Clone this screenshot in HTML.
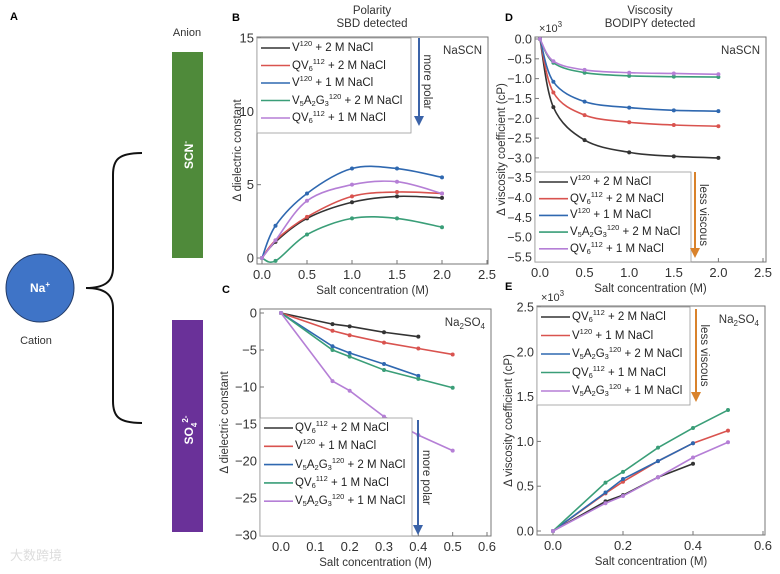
<!DOCTYPE html>
<html><head><meta charset="utf-8">
<style>
html,body{margin:0;padding:0;background:#fff;}
svg{display:block;font-family:"Liberation Sans",Arial,sans-serif;}
</style></head>
<body>
<svg id="fig" width="780" height="574" viewBox="0 0 780 574" xmlns="http://www.w3.org/2000/svg">
  <g>
    <text x="10" y="20" font-size="11" font-weight="bold">A</text>
    <text x="187" y="36" font-size="11" text-anchor="middle" fill="#333">Anion</text>
    <rect x="172" y="52" width="31" height="206" fill="#4f8a3a"/>
    <text transform="translate(193,155) rotate(-90)" font-size="12" font-weight="bold" fill="#fff" text-anchor="middle">SCN<tspan dy="-5" font-size="8">-</tspan></text>
    <rect x="172" y="320" width="31" height="212" fill="#6a3199"/>
    <text transform="translate(193,430) rotate(-90)" font-size="12" font-weight="bold" fill="#fff" text-anchor="middle">SO<tspan dy="4" font-size="8">4</tspan><tspan dy="-9" font-size="8">2-</tspan></text>
    <ellipse cx="40" cy="288" rx="34" ry="34" fill="#3f74c7" stroke="#223a66" stroke-width="1"/>
    <text x="40" y="292" font-size="12" font-weight="bold" fill="#fff" text-anchor="middle">Na<tspan dy="-5" font-size="8">+</tspan></text>
    <text x="36" y="344" font-size="11" fill="#333" text-anchor="middle">Cation</text>
    <path d="M142,153 C118,153 113,160 113,175 L113,268 C113,282 104,288 86,288 C104,288 113,294 113,308 L113,401 C113,416 118,423 142,423" fill="none" stroke="#111" stroke-width="2"/>
    <text x="10" y="560" font-size="13" fill="#ddd">大数跨境</text>
  </g>
  <g id="charts"></g>
</svg>
<script>
// ---- Panel B data (Polarity, NaSCN)
const bX = [0, 0.15, 0.5, 1.0, 1.5, 2.0];
const bBlack = [0, 1.1, 2.7, 3.8, 4.2, 4.1];
const bRed = [0, 1.2, 2.8, 4.2, 4.5, 4.4];
const bBlue = [0, 2.2, 4.4, 6.1, 6.1, 5.5];
const bGreen = [0, -0.2, 1.6, 2.7, 2.7, 2.1];
const bPurple = [0, 1.2, 3.9, 5.0, 5.2, 4.4];
const bLabels = ["V<sup>120</sup> + 2 M NaCl","QV<sub>6</sub><sup>112</sup> + 2 M NaCl","V<sup>120</sup> + 1 M NaCl","V<sub>5</sub>A<sub>2</sub>G<sub>3</sub><sup>120</sup> + 2 M NaCl","QV<sub>6</sub><sup>112</sup> + 1 M NaCl"];
const bXTicks = [0, 0.5, 1.0, 1.5, 2.0, 2.5];
const bYTicks = [0, 5, 10, 15];
// ---- Panel D data (Viscosity, NaSCN, x10^3)
const dX = [0, 0.15, 0.5, 1.0, 1.5, 2.0];
const dBlack = [0, -1.72, -2.55, -2.86, -2.96, -3.0];
const dRed = [0, -1.35, -1.92, -2.1, -2.17, -2.2];
const dBlue = [0, -1.08, -1.58, -1.73, -1.8, -1.82];
const dGreen = [0, -0.6, -0.85, -0.93, -0.95, -0.96];
const dPurple = [0, -0.56, -0.78, -0.85, -0.87, -0.89];
const dLabels = bLabels;
const dXTicks = [0, 0.5, 1.0, 1.5, 2.0, 2.5];
const dYTicks = [0, -0.5, -1.0, -1.5, -2.0, -2.5, -3.0, -3.5, -4.0, -4.5, -5.0, -5.5];
// ---- Panel C data (Polarity, Na2SO4)
const cX = [0, 0.15, 0.2, 0.3, 0.4, 0.5];
const cBlack = [0, -1.5, -1.8, -2.6, -3.2];
const cRed = [0, -2.4, -3.0, -4.0, -4.8, -5.6];
const cBlue = [0, -4.5, -5.4, -6.9, -8.5];
const cGreen = [0, -5.0, -5.9, -7.7, -8.9, -10.1];
const cPurple = [0, -9.2, -10.5, -14.0, -16.5, -18.6];
const cLabels = ["QV<sub>6</sub><sup>112</sup> + 2 M NaCl","V<sup>120</sup> + 1 M NaCl","V<sub>5</sub>A<sub>2</sub>G<sub>3</sub><sup>120</sup> + 2 M NaCl","QV<sub>6</sub><sup>112</sup> + 1 M NaCl","V<sub>5</sub>A<sub>2</sub>G<sub>3</sub><sup>120</sup> + 1 M NaCl"];
const cXTicks = [0, 0.1, 0.2, 0.3, 0.4, 0.5, 0.6];
const cYTicks = [0, -5, -10, -15, -20, -25, -30];
// ---- Panel E data (Viscosity, Na2SO4, x10^3)
const eX = [0, 0.15, 0.2, 0.3, 0.4, 0.5];
const eBlack = [0, 0.33, 0.4, 0.6, 0.75];
const eRed = [0, 0.42, 0.55, 0.78, 0.98, 1.12];
const eBlue = [0, 0.43, 0.58, 0.78, 0.98];
const eGreen = [0, 0.54, 0.66, 0.93, 1.15, 1.35];
const ePurple = [0, 0.31, 0.39, 0.6, 0.82, 0.99];
const eLabels = cLabels;
const eXTicks = [0, 0.2, 0.4, 0.6];
const eYTicks = [0, 0.5, 1.0, 1.5, 2.0, 2.5];

const COLORS = ["#333333", "#d9534f", "#2f68b0", "#3a9e78", "#b57fd6"];
const NS = "http://www.w3.org/2000/svg";
const root = document.getElementById("charts");

function mk(tag, attrs, parent) {
  const el = document.createElementNS(NS, tag);
  for (const k in attrs) el.setAttribute(k, attrs[k]);
  (parent || root).appendChild(el);
  return el;
}
function fmt(v, dec) { return v.toFixed(dec).replace("-", "\u2212"); }
function smoothPath(pts) {
  let d = "M" + pts[0][0] + "," + pts[0][1];
  for (let i = 0; i < pts.length - 1; i++) {
    const p0 = pts[Math.max(0, i - 1)], p1 = pts[i], p2 = pts[i + 1], p3 = pts[Math.min(pts.length - 1, i + 2)];
    const c1 = [p1[0] + (p2[0] - p0[0]) / 6, p1[1] + (p2[1] - p0[1]) / 6];
    const c2 = [p2[0] - (p3[0] - p1[0]) / 6, p2[1] - (p3[1] - p1[1]) / 6];
    d += " C" + c1.join(",") + " " + c2.join(",") + " " + p2.join(",");
  }
  return d;
}

function panel(cfg) {
  const g = mk("g", {});
  
  
  const sx = v => cfg.px0 + (v - cfg.x0) / (cfg.x1 - cfg.x0) * (cfg.px1 - cfg.px0);
  const sy = v => cfg.py0 + (v - cfg.y0) / (cfg.y1 - cfg.y0) * (cfg.py1 - cfg.py0);
  const f = cfg.frame;
  const fr = mk("rect", {x: f[0], y: f[1], width: f[2] - f[0], height: f[3] - f[1], fill: "none", stroke: "#777", "stroke-width": 1}, g);
  
  
  cfg.xticks.forEach(t => {
    const x = sx(t);
    const tk = mk("line", {x1: x, x2: x, y1: f[3], y2: f[3] - 4, stroke: "#777"}, g);
    
    
    const tl = mk("text", {x: x, y: f[3] + 15, "font-size": 13, "text-anchor": "middle", fill: "#333"}, g);
    tl.textContent = fmt(t, 1);
    
    
  });
  cfg.yticks.forEach(t => {
    const y = sy(t);
    const tk = mk("line", {x1: f[0], x2: f[0] + 4, y1: y, y2: y, stroke: "#777"}, g);
    
    
    const tl = mk("text", {x: f[0] - 3, y: y + 4.5, "font-size": cfg.yfs || 13, "text-anchor": "end", fill: "#333"}, g);
    tl.textContent = fmt(t, cfg.ydec);
    
    
  });
  const xt = mk("text", {x: (f[0] + f[2]) / 2, y: f[3] + 30, "font-size": 11.5, "text-anchor": "middle", fill: "#333"}, g);
  xt.textContent = "Salt concentration (M)";
  
  
  const yt = mk("text", {transform: "translate(" + cfg.ytx + "," + (f[1] + f[3]) / 2 + ") rotate(-90)", "font-size": 11.5, "text-anchor": "middle", fill: "#333"}, g);
  yt.textContent = cfg.ytitle;
  
  
  const pl = mk("text", {x: cfg.letterX, y: f[1] - 16, "font-size": 11, "font-weight": "bold"}, g);
  pl.textContent = cfg.letter;
  
  
  if (cfg.mult) {
    const m = mk("text", {x: f[0] + 4, y: f[1] - 5, "font-size": 11, fill: "#333"}, g);
    m.innerHTML = "×10<tspan dy='-5' font-size='8'>3</tspan>";
    
    
  }
  const salt = mk("text", {x: f[2] - 6, y: f[1] + 17, "font-size": 11.5, "text-anchor": "end", fill: "#333"}, g);
  salt.innerHTML = cfg.salt;
  
  
  cfg.series.forEach((ys, i) => {
    const pts = ys.map((v, j) => [sx(cfg.xs[j]), sy(v)]);
    const p = mk("path", {d: cfg.smooth ? smoothPath(pts) : "M" + pts.map(q => q.join(",")).join(" L"), fill: "none", stroke: COLORS[i], "stroke-width": 1.6}, g);
    
    
    pts.forEach(q => {
      const c = mk("circle", {cx: q[0], cy: q[1], r: 2, fill: COLORS[i]}, g);
      
      
    });
  });
  const L = cfg.legend;
  const lb = mk("rect", {x: L.x, y: L.y, width: L.w, height: L.h, fill: "#fff", stroke: "#999", "stroke-width": 0.8}, g);
  
  
  cfg.labels.forEach((lab, i) => {
    const y = L.y + 10 + i * L.dy;
    const ln = mk("line", {x1: L.x + 4, x2: L.x + 33, y1: y, y2: y, stroke: COLORS[i], "stroke-width": 1.6}, g);
    
    
    const fo = mk("foreignObject", {x: L.x + 35, y: y - 9, width: L.w - 36, height: 18}, g);
    
    
    fo.innerHTML = "<div xmlns='http://www.w3.org/1999/xhtml' style='font:11.5px \"Liberation Sans\",sans-serif;line-height:18px;color:#222;white-space:nowrap'>" + lab.replace(/<sup>/g, "<sup style='font-size:7.5px;vertical-align:5px;line-height:0'>").replace(/<sub>/g, "<sub style='font-size:7.5px;vertical-align:-2px;line-height:0'>") + "</div>";
  });
  const A = cfg.arrow;
  const al = mk("line", {x1: A.x, x2: A.x, y1: A.y1, y2: A.y2 - 8, stroke: A.color, "stroke-width": 2}, g);
  
  
  const ah = mk("polygon", {points: (A.x - 5) + "," + (A.y2 - 10) + " " + (A.x + 5) + "," + (A.y2 - 10) + " " + A.x + "," + A.y2, fill: A.color}, g);
  
  
  const at = mk("text", {transform: "translate(" + (A.x + 5) + "," + ((A.y1 + A.y2) / 2) + ") rotate(90)", "font-size": 11.5, "text-anchor": "middle", fill: "#333"}, g);
  at.textContent = A.text;
  
  
}

function titles(x, l1, l2, name) {
  const t1 = mk("text", {x: x, y: 14, "font-size": 11.5, "text-anchor": "middle", fill: "#333"});
  t1.textContent = l1;
  
  
  const t2 = mk("text", {x: x, y: 27, "font-size": 11.5, "text-anchor": "middle", fill: "#333"});
  t2.textContent = l2;
  
  
}
titles(372, "Polarity", "SBD detected", "polarity");
titles(650, "Viscosity", "BODIPY detected", "viscosity");

panel({name: "panel-b", letter: "B", letterX: 232, frame: [257, 37, 488, 264], x0: 0, x1: 2.5, px0: 262, px1: 487, y0: 0, y1: 15, py0: 258, py1: 38,
  xs: bX, series: [bBlack, bRed, bBlue, bGreen, bPurple], labels: bLabels, xticks: bXTicks, yticks: bYTicks, ydec: 0, smooth: true,
  ytitle: "Δ dielectric constant", ytx: 241, salt: "NaSCN",
  legend: {x: 257, y: 38, w: 154, h: 95, dy: 17.5}, arrow: {x: 419, y1: 38, y2: 126, color: "#3b63a8", text: "more polar"}});
panel({name: "panel-d", letter: "D", letterX: 505, frame: [535, 37, 766, 262], x0: 0, x1: 2.5, px0: 540, px1: 763, y0: 0, y1: -5.5, py0: 39, py1: 257,
  xs: dX, series: [dBlack, dRed, dBlue, dGreen, dPurple], labels: dLabels, xticks: dXTicks, yticks: dYTicks, ydec: 1, yfs: 12.5, smooth: true, mult: true,
  ytitle: "Δ viscosity coefficient (cP)", ytx: 505, salt: "NaSCN",
  legend: {x: 535, y: 172, w: 156, h: 90, dy: 16.7}, arrow: {x: 695, y1: 172, y2: 258, color: "#d9822b", text: "less viscous"}});
panel({name: "panel-c", letter: "C", letterX: 222, frame: [260, 309, 491, 536], x0: 0, x1: 0.6, px0: 281, px1: 487, y0: 0, y1: -30, py0: 313, py1: 535,
  xs: cX, series: [cBlack, cRed, cBlue, cGreen, cPurple], labels: cLabels, xticks: cXTicks, yticks: cYTicks, ydec: 0, smooth: false,
  ytitle: "Δ dielectric constant", ytx: 228, salt: "Na<tspan dy='3' font-size='8'>2</tspan><tspan dy='-3'>SO</tspan><tspan dy='3' font-size='8'>4</tspan>",
  legend: {x: 260, y: 418, w: 152, h: 118, dy: 18.3}, arrow: {x: 418, y1: 420, y2: 535, color: "#3b63a8", text: "more polar"}});
panel({name: "panel-e", letter: "E", letterX: 505, frame: [537, 306, 765, 535], x0: 0, x1: 0.6, px0: 553, px1: 763, y0: 0, y1: 2.5, py0: 531, py1: 307,
  xs: eX, series: [eBlack, eRed, eBlue, eGreen, ePurple], labels: eLabels, xticks: eXTicks, yticks: eYTicks, ydec: 1, yfs: 12.5, smooth: false, mult: true,
  ytitle: "Δ viscosity coefficient (cP)", ytx: 512, salt: "Na<tspan dy='3' font-size='8'>2</tspan><tspan dy='-3'>SO</tspan><tspan dy='3' font-size='8'>4</tspan>",
  legend: {x: 537, y: 307, w: 153, h: 98, dy: 18.5}, arrow: {x: 696, y1: 309, y2: 402, color: "#d9822b", text: "less viscous"}});
</script>
</body></html>
